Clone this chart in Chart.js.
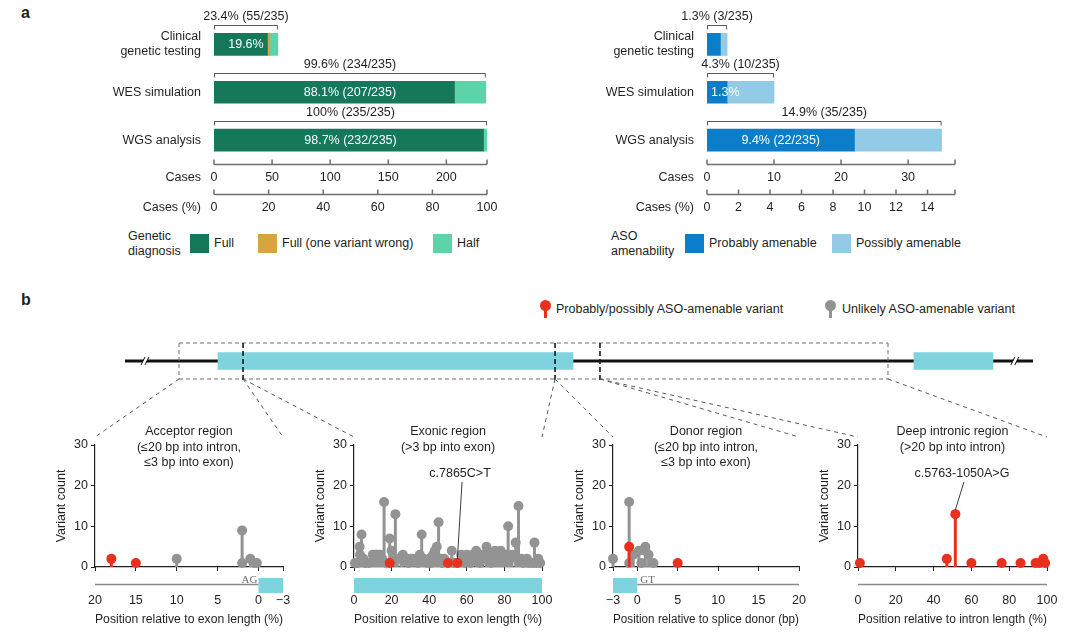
<!DOCTYPE html>
<html>
<head>
<meta charset="utf-8">
<title>Genetic diagnosis and ASO amenability</title>
<script src="https://cdn.jsdelivr.net/npm/chart.js@4.4.1/dist/chart.umd.min.js"></script>
<style>
  html, body { margin: 0; background: #fff; }
  #page { position: relative; width: 1080px; height: 632px; overflow: hidden;
          font-family: "Liberation Sans", Arial, Helvetica, sans-serif; font-size: 12.5px; color: #231f20; }
  #page canvas { position: absolute; }
  .t { position: absolute; white-space: nowrap; line-height: 15px; }
  .panel { font-weight: bold; font-size: 16px; }
  .sw { position: absolute; width: 19px; height: 19px; }
  .pin { position: absolute; width: 11px; height: 11px; border-radius: 50%; }
  .pin::after { content: ''; position: absolute; left: 4px; top: 9px; width: 3px; height: 9px; background: inherit; }
</style>
</head>
<body>
<div id="page">
  <div class="t panel" style="left:21px;top:5px">a</div>
  <div class="t panel" style="left:21px;top:292px">b</div>

  <canvas id="diagChart" width="540" height="225" style="left:0;top:0"></canvas>
  <canvas id="asoChart" width="540" height="225" style="left:540px;top:0"></canvas>
  <div id="diagLegend"></div>
  <div id="asoLegend"></div>

  <div class="pin" style="left:540px;top:300px;background:#e8301c"></div>
  <div class="t" style="left:556px;top:302px">Probably/possibly ASO-amenable variant</div>
  <div class="pin" style="left:825px;top:300px;background:#939393"></div>
  <div class="t" style="left:842px;top:302px">Unlikely ASO-amenable variant</div>

  <canvas id="acceptorChart" width="260" height="212" style="left:40px;top:420px"></canvas>
  <canvas id="exonChart" width="260" height="212" style="left:299px;top:420px"></canvas>
  <canvas id="donorChart" width="258" height="212" style="left:558px;top:420px"></canvas>
  <canvas id="deepChart" width="261" height="212" style="left:803px;top:420px"></canvas>
  <canvas id="geneChart" width="1080" height="110" style="left:0;top:330px"></canvas>
</div>

<script>
/* ---------- panel a data ---------- */
const rowLabels = [['Clinical', 'genetic testing'], 'WES simulation', 'WGS analysis'];
const totalCases = 235;

const diagFull = [46, 207, 232];
const diagWrong = [2, 0, 0];
const diagHalf = [7, 27, 3];
const diagInside = ['19.6%', '88.1% (207/235)', '98.7% (232/235)'];
const diagTotals = ['23.4% (55/235)', '99.6% (234/235)', '100% (235/235)'];
const diagCaseTicks = [0, 50, 100, 150, 200];
const diagPctTicks = [0, 20, 40, 60, 80, 100];

const asoProbably = [2, 3, 22];
const asoPossibly = [1, 7, 13];
const asoInside = ['', '1.3%', '9.4% (22/235)'];
const asoTotals = ['1.3% (3/235)', '4.3% (10/235)', '14.9% (35/235)'];
const asoCaseTicks = [0, 10, 20, 30];
const asoPctTicks = [0, 2, 4, 6, 8, 10, 12, 14];
const asoCaseMax = 37;

/* ---------- panel b data: [position, variant count] ---------- */
const acceptorAmenable = [[18, 2], [15, 1]];
const acceptorUnlikely = [[10, 2], [2, 9], [2, 1], [1, 2], [0.5, 1], [0.2, 1]];

const exonAmenable = [[19, 1], [50, 1], [55, 1]];
const exonUnlikely = [
  [0.5, 1], [2, 1], [3, 5], [3.2, 3], [4, 8], [5, 2], [6, 1], [8, 1], [10, 3], [11, 3], [12, 3],
  [13, 3], [14, 3], [15, 2], [16, 16], [17, 1], [19, 7], [20, 4], [22, 13], [23, 2], [25, 2],
  [26, 3], [28, 2], [29, 1], [30, 2], [31, 2], [33, 2], [34, 1], [35, 3], [36, 8], [37, 2],
  [39, 1], [40, 2], [41, 1], [42, 3], [43, 4], [44, 5], [45, 11], [46, 2], [47, 1], [48, 2],
  [52, 4], [53, 1], [57, 3], [58, 2], [59, 1], [60, 3], [61, 2], [62, 1], [63, 3], [65, 4],
  [66, 2], [67, 1], [68, 3], [70.5, 5], [71, 2], [72, 3], [73, 1], [75, 4], [76, 3], [77, 2],
  [78, 4], [79, 3], [80, 2], [81, 3], [82, 10], [83, 2], [84, 3], [86, 6], [87.5, 15], [89, 2],
  [90, 1], [92, 2], [93, 1], [95, 1], [96, 6], [97, 1], [98, 2], [99, 1],
];

const donorAmenable = [[-1, 5], [5, 1]];
const donorUnlikely = [[-3, 2], [-1, 16], [-1, 1], [-0.5, 3], [0.2, 4], [0.5, 1], [1, 5], [1, 4], [1.4, 3], [2, 1]];

const deepAmenable = [[1, 1], [47, 2], [51.5, 13], [60, 1], [76, 1], [86, 1], [94, 1], [96, 1], [98, 2], [99, 1]];
const deepUnlikely = [];

const countTicks = [0, 10, 20, 30];
const spliceTicksAcceptor = [20, 15, 10, 5, 0, -3];
const spliceTicksDonor = [-3, 0, 5, 10, 15, 20];
const percentTicks = [0, 20, 40, 60, 80, 100];

/* gene sketch, in % of drawn gene length */
const geneExons = [[10.24, 49.34], [86.89, 95.59]];
const geneRegionBounds = [5.95, 13.0, 47.36, 52.31, 84.03];
const geneBreaks = [2.2, 98.0];

/* ---------- styling ---------- */
const INK = '#231f20';
const AXIS = '#231f20';
const GREEN = '#16785b', ORANGE = '#d8a43f', MINT = '#5dd3a9';
const BLUE = '#0b7dc9', LIGHTBLUE = '#93cae6';
const RED = '#e8301c', GRAY = '#939393', CYAN = '#7fd3de';
const FONT_FAMILY = '"Liberation Sans", Arial, Helvetica, sans-serif';
const FONT = '12.5px ' + FONT_FAMILY;

Chart.defaults.font.family = FONT_FAMILY;
Chart.defaults.font.size = 12.5;
Chart.defaults.color = INK;
Chart.defaults.animation = false;
Chart.defaults.responsive = false;
Chart.defaults.plugins.legend.display = false;
Chart.defaults.plugins.tooltip.enabled = false;

const fixedTicks = (vals) => (s) => { s.ticks = vals.map((v) => ({ value: v })); };
const minusTick = (v) => (v < 0 ? '\u2212' + Math.abs(v) : String(v));
const noGrid = { display: false, drawTicks: false, tickLength: 0 };

/* ---------- panel a: stacked bars, brackets, twin bottom axes ---------- */
const casesPlugin = {
  id: 'cases',
  afterDraw(chart, args, o) {
    const { ctx, chartArea: a, scales } = chart;
    const xs = scales.x, ys = scales.y;
    ctx.save();
    ctx.font = FONT;
    ctx.textBaseline = 'middle';

    // axes: grey line with small upward ticks, title to the left
    ['x', 'xPct'].forEach((id, k) => {
      const s = scales[id];
      const y = s.top + 0.5;
      ctx.strokeStyle = '#6d6e71';
      ctx.lineWidth = 1.5;
      ctx.beginPath();
      ctx.moveTo(s.left, y);
      ctx.lineTo(s.right, y);
      s.ticks.concat([{ value: s.max }]).forEach((t) => {
        const p = s.getPixelForValue(t.value);
        ctx.moveTo(p, y);
        ctx.lineTo(p, y - 5);
      });
      ctx.stroke();
      ctx.fillStyle = INK;
      ctx.textAlign = 'right';
      ctx.fillText(k === 0 ? 'Cases' : 'Cases (%)', a.left - 13, s.top + 13.5);
    });

    // brackets with totals, white labels inside the bars
    chart.data.labels.forEach((lab, i) => {
      const total = chart.data.datasets.reduce((sum, d) => sum + d.data[i], 0);
      const x0 = xs.getPixelForValue(0);
      const x1 = xs.getPixelForValue(total);
      const cy = ys.getPixelForValue(i);
      const by = Math.round(cy - 11 - 8.5) + 0.5;
      ctx.strokeStyle = '#58595b';
      ctx.lineWidth = 1;
      ctx.beginPath();
      ctx.moveTo(x0 + 0.5, by + 4);
      ctx.lineTo(x0 + 0.5, by);
      ctx.lineTo(x1 - 0.5, by);
      ctx.lineTo(x1 - 0.5, by + 4);
      ctx.stroke();
      ctx.fillStyle = INK;
      ctx.textAlign = 'center';
      ctx.fillText(o.totals[i], (x0 + x1) / 2, by - 8.5);

      const txt = o.inside[i];
      if (txt) {
        const w = ctx.measureText(txt).width;
        const first = chart.data.datasets[0].data[i];
        let cx = o.centerOn === 'total' ? (x0 + x1) / 2 : (x0 + xs.getPixelForValue(first)) / 2;
        cx = Math.max(cx, x0 + 4 + w / 2);
        ctx.fillStyle = '#fff';
        ctx.fillText(txt, cx, cy + 0.5);
      }
    });
    ctx.restore();
  },
};

function casesChart(id, o) {
  return new Chart(document.getElementById(id), {
    type: 'bar',
    data: {
      labels: rowLabels,
      datasets: o.series.map((s) => ({
        label: s.label, data: s.data, backgroundColor: s.color, barThickness: 22, borderWidth: 0,
      })),
    },
    options: {
      indexAxis: 'y',
      layout: { padding: { left: 0, right: o.padRight, top: 18, bottom: 0 } },
      scales: {
        y: {
          stacked: true, grid: noGrid, border: { display: false },
          ticks: { padding: 13, color: INK },
          afterFit: (s) => { s.width = o.axisWidth; },
        },
        x: {
          stacked: true, position: 'bottom', weight: 0, min: 0, max: o.caseMax,
          grid: noGrid, border: { display: false },
          ticks: { padding: 6, color: INK },
          afterBuildTicks: fixedTicks(o.caseTicks),
          afterFit: (s) => { s.height = 30; },
        },
        xPct: {
          axis: 'x', type: 'linear', position: 'bottom', weight: 1, min: 0, max: o.caseMax / totalCases * 100,
          grid: noGrid, border: { display: false },
          ticks: { padding: 6, color: INK },
          afterBuildTicks: fixedTicks(o.pctTicks),
          afterFit: (s) => { s.height = 31; },
        },
      },
      plugins: { cases: { totals: o.totals, inside: o.inside, centerOn: o.centerOn } },
    },
    plugins: [casesPlugin],
  });
}

const diagSeries = [
  { label: 'Full', data: diagFull, color: GREEN },
  { label: 'Full (one variant wrong)', data: diagWrong, color: ORANGE },
  { label: 'Half', data: diagHalf, color: MINT },
];
const asoSeries = [
  { label: 'Probably amenable', data: asoProbably, color: BLUE },
  { label: 'Possibly amenable', data: asoPossibly, color: LIGHTBLUE },
];

casesChart('diagChart', {
  series: diagSeries, totals: diagTotals, inside: diagInside, centerOn: 'total',
  caseMax: totalCases, caseTicks: diagCaseTicks, pctTicks: diagPctTicks, axisWidth: 214, padRight: 53,
});
casesChart('asoChart', {
  series: asoSeries, totals: asoTotals, inside: asoInside, centerOn: 'first',
  caseMax: asoCaseMax, caseTicks: asoCaseTicks, pctTicks: asoPctTicks, axisWidth: 167, padRight: 125,
});

/* legends for panel a */
function buildLegend(id, title, left, swatchLefts, series) {
  const host = document.getElementById(id);
  let html = '<div class="t" style="left:' + left + 'px;top:229px">' + title[0] + '<br>' + title[1] + '</div>';
  series.forEach((s, i) => {
    html += '<div class="sw" style="left:' + swatchLefts[i] + 'px;top:234px;background:' + s.color + '"></div>';
    html += '<div class="t" style="left:' + (swatchLefts[i] + 24) + 'px;top:236px">' + s.label + '</div>';
  });
  host.innerHTML = html;
}
buildLegend('diagLegend', ['Genetic', 'diagnosis'], 128, [190, 258, 433], diagSeries);
buildLegend('asoLegend', ['ASO', 'amenability'], 611, [685, 832], asoSeries);

/* ---------- panel b: lollipop plots ---------- */
const decorPlugin = {
  id: 'decor',
  afterDraw(chart, args, o) {
    const { ctx, chartArea: a, scales: { x, y } } = chart;
    ctx.save();
    ctx.font = FONT;
    ctx.fillStyle = INK;
    ctx.textAlign = 'center';
    ctx.textBaseline = 'middle';
    const cx = (a.left + a.right) / 2;
    o.title.forEach((t, i) => ctx.fillText(t, cx, a.top - 13 + i * 15.5));

    // gene strip under the x axis
    const sy = a.bottom + 17.5;
    if (o.intron) {
      const p0 = x.getPixelForValue(o.intron[0]), p1 = x.getPixelForValue(o.intron[1]);
      ctx.strokeStyle = '#8a8a8a';
      ctx.lineWidth = 1.5;
      ctx.beginPath();
      ctx.moveTo(Math.min(p0, p1), sy);
      ctx.lineTo(Math.max(p0, p1), sy);
      ctx.stroke();
    }
    if (o.exon) {
      const p0 = x.getPixelForValue(o.exon[0]), p1 = x.getPixelForValue(o.exon[1]);
      ctx.fillStyle = CYAN;
      ctx.fillRect(Math.min(p0, p1), a.bottom + 11, Math.abs(p1 - p0), 15);
    }
    if (o.motif) {
      ctx.font = '11px "Liberation Serif", "DejaVu Serif", serif';
      ctx.fillStyle = '#6d6e71';
      ctx.textAlign = o.motif.align;
      ctx.fillText(o.motif.text, x.getPixelForValue(0) + o.motif.dx, a.bottom + 13.5);
    }

    // named variant callout
    if (o.callout) {
      const c = o.callout;
      const tx = x.getPixelForValue(c.at[0]), ty = y.getPixelForValue(c.at[1]);
      const px = x.getPixelForValue(c.point[0]), py = y.getPixelForValue(c.point[1]);
      ctx.font = FONT;
      ctx.fillStyle = INK;
      ctx.textAlign = 'center';
      ctx.fillText(c.text, tx, ty);
      ctx.strokeStyle = '#3a3a3a';
      ctx.lineWidth = 1;
      ctx.beginPath();
      ctx.moveTo(tx + 2, ty + 8);
      ctx.lineTo(px, py - 4);
      ctx.stroke();
    }
    ctx.restore();
  },
};

function lollipopChart(id, o) {
  const heads = (list) => list.map(([x, y]) => ({ x, y }));
  const stems = (list) => list.flatMap(([x, y]) => [{ x, y: 0 }, { x, y }, { x, y: null }]);
  const datasets = [];
  [[o.amenable, RED], [o.unlikely, GRAY]].forEach(([list, color]) => {
    datasets.push({
      type: 'scatter', data: heads(list), pointRadius: 5, pointBackgroundColor: color,
      pointBorderWidth: 0, clip: false,
    });
    datasets.push({
      type: 'line', data: stems(list), borderColor: color, borderWidth: 3, pointRadius: 0,
      spanGaps: false, clip: false, borderCapStyle: 'butt',
    });
  });
  const axisLine = {
    grid: { drawOnChartArea: false, drawTicks: true, tickLength: 4, color: AXIS, lineWidth: 1 },
    border: { color: AXIS, width: 1.2 },
  };
  return new Chart(document.getElementById(id), {
    type: 'scatter',
    data: { datasets },
    options: {
      layout: { padding: { left: 10, right: 17, top: 25, bottom: 0 } },
      scales: {
        x: {
          type: 'linear', min: o.xMin, max: o.xMax, reverse: !!o.reverse, ...axisLine,
          afterBuildTicks: fixedTicks(o.xTicks),
          ticks: { padding: 22, color: INK, callback: minusTick },
          title: { display: true, text: o.xTitle, color: INK, padding: { top: 0, bottom: 4.5 } },
          // labels sit low to leave room for the gene strip; keep that padding from squeezing the plot
          afterFit: (s) => { s.height = 65; s.paddingLeft = 6; s.paddingRight = 12; },
        },
        y: {
          min: 0, max: 30, ...axisLine,
          afterBuildTicks: fixedTicks(countTicks),
          ticks: { padding: 3, color: INK },
          title: { display: true, text: 'Variant count', color: INK, padding: { top: 4, bottom: 0 } },
          afterFit: (s) => { s.width = 45; },
        },
      },
      plugins: { decor: o.decor },
    },
    plugins: [decorPlugin],
  });
}

const subCharts = [
  lollipopChart('acceptorChart', {
    amenable: acceptorAmenable, unlikely: acceptorUnlikely,
    xMin: -3, xMax: 20, reverse: true, xTicks: spliceTicksAcceptor,
    xTitle: 'Position relative to exon length (%)',
    decor: {
      title: ['Acceptor region', '(\u226420 bp into intron,', '\u22643 bp into exon)'],
      intron: [20, 0], exon: [0, -3], motif: { text: 'AG', align: 'right', dx: -1 },
    },
  }),
  lollipopChart('exonChart', {
    amenable: exonAmenable, unlikely: exonUnlikely,
    xMin: 0, xMax: 100, xTicks: percentTicks,
    xTitle: 'Position relative to exon length (%)',
    decor: {
      title: ['Exonic region', '(>3 bp into exon)'],
      exon: [0, 100],
      callout: { text: 'c.7865C>T', at: [56.4, 22.9], point: [55, 1] },
    },
  }),
  lollipopChart('donorChart', {
    amenable: donorAmenable, unlikely: donorUnlikely,
    xMin: -3, xMax: 20, xTicks: spliceTicksDonor,
    xTitle: 'Position relative to splice donor (bp)',
    decor: {
      title: ['Donor region', '(\u226420 bp into intron,', '\u22643 bp into exon)'],
      intron: [0, 20], exon: [-3, 0], motif: { text: 'GT', align: 'left', dx: 3 },
    },
  }),
  lollipopChart('deepChart', {
    amenable: deepAmenable, unlikely: deepUnlikely,
    xMin: 0, xMax: 100, xTicks: percentTicks,
    xTitle: 'Position relative to intron length (%)',
    decor: {
      title: ['Deep intronic region', '(>20 bp into intron)'],
      intron: [0, 100],
      callout: { text: 'c.5763-1050A>G', at: [55, 22.9], point: [51.5, 13] },
    },
  }),
];

/* ---------- gene sketch with zoom boxes ---------- */
const genePlugin = {
  id: 'gene',
  beforeDatasetsDraw(chart) {
    const { ctx, chartArea: a, scales: { x } } = chart;
    const cy = (a.top + a.bottom) / 2;
    ctx.save();
    ctx.strokeStyle = '#111';
    ctx.lineWidth = 3;
    ctx.beginPath();
    ctx.moveTo(x.getPixelForValue(0), cy);
    ctx.lineTo(x.getPixelForValue(100), cy);
    ctx.stroke();
    geneBreaks.forEach((b) => {
      const p = x.getPixelForValue(b);
      ctx.strokeStyle = '#fff';
      ctx.lineWidth = 3;
      ctx.beginPath();
      ctx.moveTo(p - 2, cy + 4);
      ctx.lineTo(p + 2, cy - 4);
      ctx.stroke();
      ctx.strokeStyle = '#111';
      ctx.lineWidth = 1;
      ctx.beginPath();
      ctx.moveTo(p - 4, cy + 4);
      ctx.lineTo(p, cy - 4);
      ctx.moveTo(p, cy + 4);
      ctx.lineTo(p + 4, cy - 4);
      ctx.stroke();
    });
    ctx.restore();
  },
  afterDatasetsDraw(chart, args, o) {
    const { ctx, chartArea: a, scales: { x } } = chart;
    const xb = geneRegionBounds.map((b) => x.getPixelForValue(b));
    const last = xb.length - 1;
    ctx.save();
    ctx.setLineDash([4, 3]);
    ctx.strokeStyle = '#6d6e71';
    ctx.lineWidth = 1;
    ctx.beginPath();
    ctx.moveTo(xb[0], a.top); ctx.lineTo(xb[last], a.top);
    ctx.moveTo(xb[0], a.bottom); ctx.lineTo(xb[last], a.bottom);
    ctx.moveTo(xb[0], a.top); ctx.lineTo(xb[0], a.bottom);
    ctx.moveTo(xb[last], a.top); ctx.lineTo(xb[last], a.bottom);
    ctx.stroke();

    ctx.strokeStyle = '#1a1a1a';
    ctx.lineWidth = 1.6;
    ctx.setLineDash([5, 3]);
    ctx.beginPath();
    for (let i = 1; i < last; i++) {
      ctx.moveTo(xb[i], a.top);
      ctx.lineTo(xb[i], a.bottom + 2);
    }
    ctx.stroke();

    ctx.strokeStyle = '#58595b';
    ctx.lineWidth = 1;
    ctx.setLineDash([4, 4]);
    ctx.beginPath();
    (o.targets || []).forEach(([l, r], i) => {
      ctx.moveTo(xb[i], a.bottom);
      ctx.lineTo(l, chart.height - 3);
      ctx.moveTo(xb[i + 1], a.bottom);
      ctx.lineTo(r, chart.height - 3);
    });
    ctx.stroke();
    ctx.restore();
  },
};

const geneCanvas = document.getElementById('geneChart');
const targets = subCharts.map((c) => [c.canvas.offsetLeft + c.chartArea.left, c.canvas.offsetLeft + c.chartArea.right]);

new Chart(geneCanvas, {
  type: 'bar',
  data: {
    labels: ['gene'],
    datasets: geneExons.map((e) => ({ data: [e], backgroundColor: CYAN, barThickness: 17, grouped: false, borderWidth: 0 })),
  },
  options: {
    indexAxis: 'y',
    layout: { padding: { left: 125, right: 47, top: 13, bottom: 61 } },
    scales: {
      x: { type: 'linear', min: 0, max: 100, display: false },
      y: { display: false },
    },
    plugins: { gene: { targets } },
  },
  plugins: [genePlugin],
});
</script>
</body>
</html>
